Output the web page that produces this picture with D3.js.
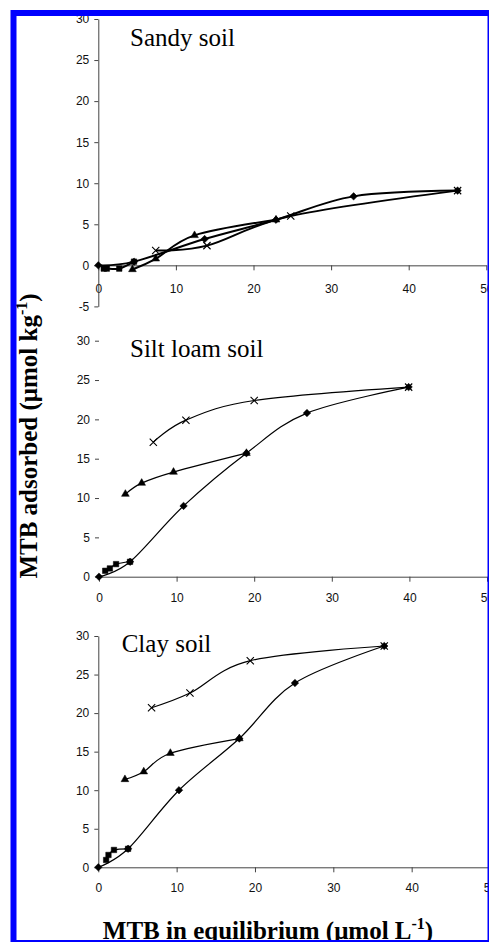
<!DOCTYPE html>
<html lang="en">
<head>
  <meta charset="utf-8">
  <title>MTB adsorption-desorption isotherms</title>
  <script src="https://cdn.jsdelivr.net/npm/d3@7/dist/d3.min.js"></script>
  <style>
    body { margin: 0; background: #fff; }
    svg { display: block; }
  </style>
</head>
<body>
  <svg class="chart" width="489" height="942"></svg>
  <script>
    // tick labels
    var xTicks = [0, 10, 20, 30, 40, 50];
    var yTicksSandy = [-5, 0, 5, 10, 15, 20, 25, 30];
    var yTicks = [0, 5, 10, 15, 20, 25, 30];

    var soils = ["Sandy soil", "Silt loam soil", "Clay soil"];

    // [MTB in equilibrium, MTB adsorbed] -- adsorption (diamonds) + 3 desorption runs
    var sandyAds  = [[0, 0], [4.6, 0.45], [13.7, 3.2], [22.9, 5.55], [32.9, 8.4], [46.3, 9.1]];
    var sandyDes1 = [[4.6, 0.45], [2.7, -0.4], [1.1, -0.4], [0.7, -0.4]];
    var sandyDes2 = [[22.9, 5.55], [12.4, 3.65], [7.4, 0.8], [4.4, -0.5]];
    var sandyDes3 = [[46.3, 9.1], [24.8, 6.0], [14.0, 2.4], [7.4, 1.8]];

    var siltAds  = [[0, 0], [4.0, 1.9], [10.9, 9.0], [19.0, 15.7], [26.8, 20.8], [39.9, 24.1]];
    var siltDes1 = [[4.0, 1.9], [2.2, 1.6], [1.4, 1.05], [0.8, 0.75]];
    var siltDes2 = [[19.0, 15.7], [9.6, 13.3], [5.5, 11.9], [3.4, 10.5]];
    var siltDes3 = [[39.9, 24.1], [20.0, 22.4], [11.2, 19.9], [7.0, 17.1]];

    var clayAds  = [[0, 0], [3.8, 2.4], [10.3, 10.0], [18.0, 16.7], [25.1, 23.9], [36.5, 28.7]];
    var clayDes1 = [[3.8, 2.4], [2.0, 2.25], [1.3, 1.6], [1.0, 0.95]];
    var clayDes2 = [[18.0, 16.7], [9.2, 14.8], [5.8, 12.4], [3.4, 11.4]];
    var clayDes3 = [[36.5, 28.7], [19.4, 26.8], [11.7, 22.6], [6.8, 20.7]];

    var series = [
      [sandyAds, sandyDes1, sandyDes2, sandyDes3],
      [siltAds, siltDes1, siltDes2, siltDes3],
      [clayAds, clayDes1, clayDes2, clayDes3]
    ];

    // panel placement on the page
    var panels = [
      { xr: [98.3, 486.3], yd: [-5, 30], yr: [306.4, 19], yt: yTicksSandy, pad: 14.5, yLine: true,  sw: 2,   tx: 130,   ty: 46 },
      { xr: [99, 487],     yd: [0, 30],  yr: [576.7, 340.7], yt: yTicks,  pad: 11.5, yLine: false, sw: 1.2, tx: 130,   ty: 356.7 },
      { xr: [98.3, 490],   yd: [0, 30],  yr: [867.3, 636], yt: yTicks,    pad: 11,   yLine: true,  sw: 1.2, tx: 121.7, ty: 651.7 }
    ];

    var markers = [
      { type: d3.symbolDiamond2, size: 36, fill: true },
      { type: d3.symbolSquare,   size: 30, fill: true },
      { type: d3.symbolTriangle, size: 26, fill: true },
      { type: d3.symbolX,        size: 36, fill: false }
    ];

    var sans = "Liberation Sans, Arial, sans-serif";
    var serif = "Liberation Serif, Times New Roman, serif";

    var svg = d3.select("svg.chart");

    panels.forEach(function(p, i) {
      var x = d3.scaleLinear().domain([0, 50]).range(p.xr);
      var y = d3.scaleLinear().domain(p.yd).range(p.yr);
      var g = svg.append("g");

      var xAxis = g.append("g")
         .attr("transform", "translate(0," + y(0) + ")")
         .call(d3.axisBottom(x).tickValues(xTicks).tickSize(5).tickSizeOuter(0)
               .tickPadding(p.pad).tickFormat(function(d) { return String(d); }));

      var yAxis = g.append("g")
         .attr("transform", "translate(" + x(0) + ",0)")
         .call(d3.axisLeft(y).tickValues(p.yt).tickSize(4).tickSizeOuter(0)
               .tickPadding(5).tickFormat(function(d) { return String(d); }));

      if (!p.yLine) yAxis.select(".domain").remove();

      [xAxis, yAxis].forEach(function(a) {
        a.attr("font-family", sans).attr("font-size", 12);
        a.selectAll("path, line").attr("stroke", "#444");
        a.selectAll("text").attr("fill", "#111");
      });

      var line = d3.line()
                   .curve(d3.curveCardinal.tension(0))
                   .x(function(d) { return x(d[0]); })
                   .y(function(d) { return y(d[1]); });

      series[i].forEach(function(s) {
        g.append("path")
         .datum(s)
         .attr("d", line)
         .attr("fill", "none")
         .attr("stroke", "#000")
         .attr("stroke-width", p.sw);
      });

      series[i].forEach(function(s, k) {
        var m = markers[k];
        g.selectAll(null)
         .data(s)
         .enter().append("path")
         .attr("transform", function(d) { return "translate(" + x(d[0]) + "," + y(d[1]) + ")"; })
         .attr("d", d3.symbol().type(m.type).size(m.size))
         .attr("fill", m.fill ? "#000" : "none")
         .attr("stroke", "#000")
         .attr("stroke-width", m.fill ? 0.5 : 1.1);
      });

      g.append("text")
       .attr("x", p.tx)
       .attr("y", p.ty)
       .attr("font-family", serif)
       .attr("font-size", 25)
       .text(soils[i]);
    });

    // axis titles
    var yTitle = svg.append("text")
       .attr("transform", "translate(37,436) rotate(-90)")
       .attr("text-anchor", "middle")
       .attr("font-family", serif)
       .attr("font-weight", "bold")
       .attr("font-size", 25);
    yTitle.append("tspan").text("MTB adsorbed (\u03bcmol kg");
    yTitle.append("tspan").attr("dy", -10).attr("font-size", 16).text("-1");
    yTitle.append("tspan").attr("dy", 10).text(")");

    var xTitle = svg.append("text")
       .attr("x", 268)
       .attr("y", 939)
       .attr("text-anchor", "middle")
       .attr("font-family", serif)
       .attr("font-weight", "bold")
       .attr("font-size", 25);
    xTitle.append("tspan").text("MTB in equilibrium (\u03bcmol L");
    xTitle.append("tspan").attr("dy", -10).attr("font-size", 16).text("-1");
    xTitle.append("tspan").attr("dy", 10).text(")");

    // blue frame, partly cut by the page edge
    svg.append("rect")
       .attr("x", 13.5)
       .attr("y", 13)
       .attr("width", 477)
       .attr("height", 930)
       .attr("fill", "none")
       .attr("stroke", "#0000ff")
       .attr("stroke-width", 6);
  </script>
</body>
</html>
